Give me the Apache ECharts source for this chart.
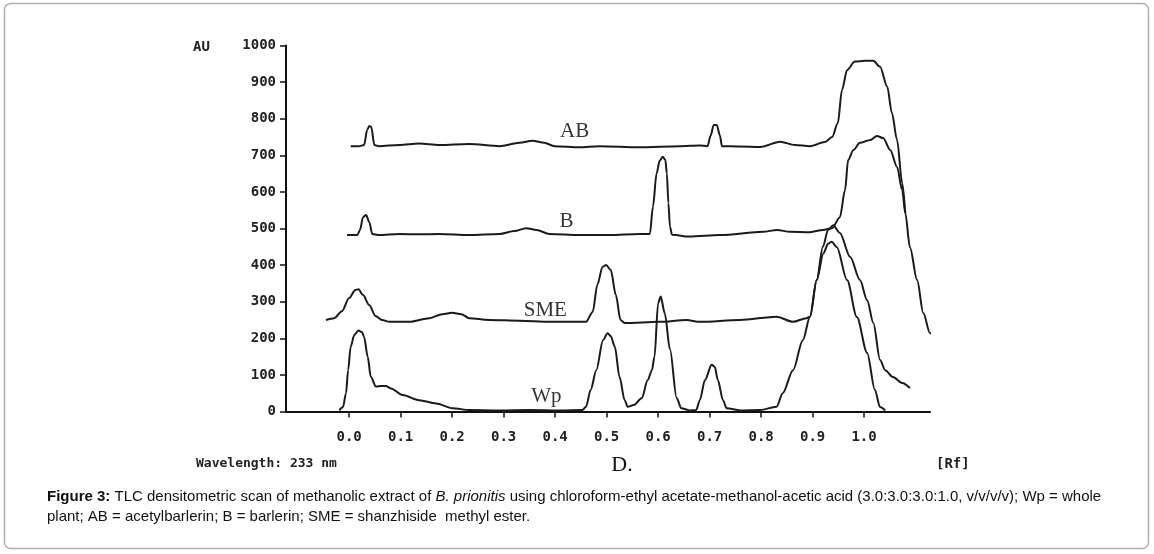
<!DOCTYPE html>
<html>
<head>
<meta charset="utf-8">
<script src="https://cdn.jsdelivr.net/npm/echarts@6/dist/echarts.min.js"></script>
<style>
html,body{margin:0;padding:0;background:#fff;}
#c{width:1154px;height:554px;}
</style>
</head>
<body>
<div id="c"></div>
<script>
// ---- data (Rf, AU) ----
const xTicks = [0.0, 0.1, 0.2, 0.3, 0.4, 0.5, 0.6, 0.7, 0.8, 0.9, 1.0];
const yTicks = [0, 100, 200, 300, 400, 500, 600, 700, 800, 900, 1000];

const abPts = [
  [0.003,725],[0.019,725],[0.029,728],[0.035,769],[0.039,780],[0.043,777],[0.049,728],[0.058,725],
  [0.097,728],[0.136,732],[0.175,728],[0.233,731],[0.292,725],[0.331,734],[0.356,740],[0.379,734],
  [0.399,725],[0.447,722],[0.486,725],[0.564,722],[0.642,725],[0.681,727],[0.696,725],[0.702,754],
  [0.708,783],[0.714,783],[0.720,754],[0.724,725],[0.759,724],[0.798,723],[0.837,737],[0.866,728],
  [0.895,725],[0.924,736],[0.938,750],[0.949,788],[0.957,878],[0.967,933],[0.982,956],[1.002,958],
  [1.018,958],[1.031,942],[1.045,887],[1.054,816],[1.064,742],[1.074,624],[1.080,542]
];
const bPts = [
  [-0.004,482],[0.016,482],[0.021,496],[0.027,531],[0.033,537],[0.039,518],[0.045,485],[0.058,482],
  [0.097,485],[0.136,484],[0.175,485],[0.233,482],[0.292,485],[0.321,493],[0.344,501],[0.364,496],
  [0.389,485],[0.447,482],[0.506,482],[0.564,485],[0.584,485],[0.590,560],[0.597,650],[0.603,685],
  [0.609,696],[0.614,688],[0.617,650],[0.620,570],[0.623,505],[0.627,483],[0.661,478],[0.720,482],
  [0.804,491],[0.831,496],[0.856,491],[0.895,490],[0.920,496],[0.938,501],[0.953,531],[0.963,605],
  [0.969,687],[0.979,714],[0.992,734],[1.012,742],[1.025,753],[1.037,747],[1.051,714],[1.064,668],
  [1.074,605],[1.080,542],[1.089,449],[1.103,359],[1.115,269],[1.128,214],[1.154,173]
];
const smePts = [
  [-0.045,250],[-0.029,255],[-0.014,274],[0.000,310],[0.012,332],[0.018,334],[0.027,318],[0.039,291],
  [0.051,261],[0.064,250],[0.078,245],[0.117,245],[0.156,255],[0.181,266],[0.200,270],[0.218,266],
  [0.233,255],[0.272,250],[0.331,248],[0.389,245],[0.460,245],[0.473,272],[0.482,346],[0.492,395],
  [0.499,400],[0.508,387],[0.518,318],[0.527,250],[0.535,242],[0.603,245],[0.655,250],[0.681,245],
  [0.759,250],[0.830,259],[0.862,245],[0.888,255],[0.895,259],[0.908,359],[0.920,450],[0.930,496],
  [0.940,509],[0.953,488],[0.973,422],[0.992,359],[1.006,304],[1.018,242],[1.031,141],[1.041,113],
  [1.056,94],[1.074,78],[1.089,64]
];
const wpPts = [
  [-0.019,3],[-0.012,12],[-0.006,50],[-0.002,113],[0.003,177],[0.010,209],[0.018,221],[0.025,217],
  [0.029,204],[0.036,150],[0.042,95],[0.052,68],[0.062,70],[0.071,70],[0.081,63],[0.104,45],
  [0.136,31],[0.169,22],[0.201,9],[0.233,4],[0.292,3],[0.350,4],[0.409,3],[0.453,4],
  [0.460,13],[0.469,59],[0.480,113],[0.493,195],[0.502,214],[0.508,206],[0.516,177],[0.525,95],
  [0.535,31],[0.541,13],[0.553,18],[0.568,36],[0.580,86],[0.588,113],[0.593,150],[0.600,296],
  [0.605,314],[0.613,268],[0.623,170],[0.636,37],[0.645,9],[0.661,3],[0.674,4],[0.681,31],
  [0.691,86],[0.704,128],[0.710,122],[0.716,86],[0.726,31],[0.733,9],[0.759,3],[0.798,4],
  [0.830,13],[0.842,50],[0.862,113],[0.881,195],[0.895,259],[0.908,359],[0.921,432],[0.930,458],
  [0.937,464],[0.947,449],[0.967,359],[0.986,258],[1.006,160],[1.021,59],[1.031,12],[1.041,3]
];
// trace name labels placed in data coordinates
const traceLabels = [
  ['AB', 0.438, 764],
  ['B', 0.422, 518],
  ['SME', 0.381, 277],
  ['Wp', 0.383, 42]
];

const chart = echarts.init(document.getElementById('c'), null, {renderer: 'canvas'});
const lineColor = '#1a1a1a';
const mono = "'DejaVu Sans Mono', monospace";

function trace(name, pts) {
  return {
    type: 'line', name: name, data: pts, showSymbol: false, symbol: 'none',
    smooth: 0.3, smoothMonotone: 'x', clip: false, silent: true,
    lineStyle: {color: lineColor, width: 2}
  };
}

chart.setOption({
  animation: false,
  backgroundColor: '#fff',
  grid: {left: 286, right: 224, top: 45.5, bottom: 142.5, containLabel: false},
  xAxis: {
    type: 'value', min: -0.1226, max: 1.128,
    axisLine: {show: true, onZero: false, lineStyle: {color: '#111', width: 2}},
    axisTick: {show: true, length: 6, customValues: xTicks, lineStyle: {color: '#111', width: 1.5}},
    axisLabel: {customValues: xTicks, margin: 19, fontFamily: mono, fontWeight: 'bold', fontSize: 14, color: '#222',
      formatter: v => v.toFixed(1)},
    splitLine: {show: false}
  },
  yAxis: {
    type: 'value', min: 0, max: 1000, interval: 100,
    axisLine: {show: true, onZero: false, lineStyle: {color: '#111', width: 2}},
    axisTick: {show: true, length: 6, lineStyle: {color: '#111', width: 1.5}},
    axisLabel: {margin: 10, fontFamily: mono, fontWeight: 'bold', fontSize: 14, color: '#222',
      formatter: v => String(v)},
    splitLine: {show: false}
  },
  series: [
    trace('AB', abPts),
    trace('B', bPts),
    trace('SME', smePts),
    trace('Wp', wpPts),
    {
      type: 'scatter', silent: true, symbolSize: 0, clip: false,
      data: traceLabels.map(t => ({name: t[0], value: [t[1], t[2]]})),
      label: {show: true, position: 'inside', formatter: p => p.name,
        fontFamily: "'Liberation Serif', 'DejaVu Serif', serif", fontSize: 21, color: '#000'}
    }
  ],
  graphic: [
    {type: 'rect', shape: {x: 4.5, y: 3.5, width: 1144, height: 545, r: 6},
      style: {fill: 'none', stroke: '#b0b0b0', lineWidth: 1.5}, z: -1},
    {type: 'text', x: 193, y: 47, style: {text: 'AU', font: "bold 14px 'DejaVu Sans Mono'", fill: '#222', verticalAlign: 'middle'}},
    {type: 'text', x: 196, y: 464, style: {text: 'Wavelength: 233 nm', font: "bold 13px 'DejaVu Sans Mono'", fill: '#222', verticalAlign: 'middle'}},
    {type: 'text', x: 936, y: 464, style: {text: '[Rf]', font: "bold 14px 'DejaVu Sans Mono'", fill: '#222', verticalAlign: 'middle'}},
    {type: 'text', x: 622, y: 465, style: {text: 'D.', font: "22px 'Liberation Serif'", fill: '#111', align: 'center', verticalAlign: 'middle'}},
    {type: 'text', x: 47, y: 487, style: {
      text: '{b|Figure 3:} TLC densitometric scan of methanolic extract of {i|B. prionitis} using chloroform-ethyl acetate-methanol-acetic acid (3.0:3.0:3.0:1.0, v/v/v/v); Wp = whole\nplant; AB = acetylbarlerin; B = barlerin; SME = shanzhiside  methyl ester.',
      font: "15px 'Liberation Sans'", fill: '#111', lineHeight: 20,
      rich: {
        b: {fontWeight: 'bold', fontFamily: 'Liberation Sans', fontSize: 15, lineHeight: 20},
        i: {fontStyle: 'italic', fontFamily: 'Liberation Sans', fontSize: 15, lineHeight: 20}
      }
    }}
  ]
});
</script>
</body>
</html>
